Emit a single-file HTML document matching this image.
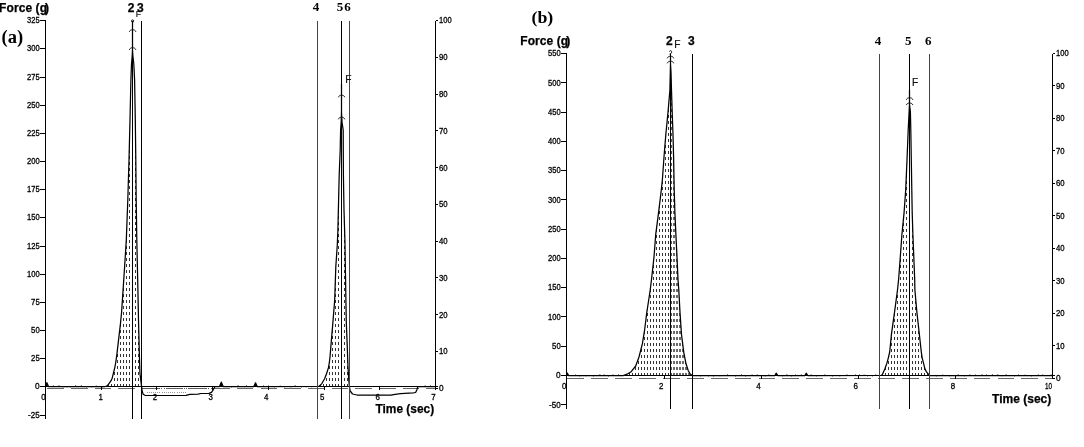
<!DOCTYPE html>
<html><head><meta charset="utf-8"><title>Texture profile</title>
<style>
html,body{margin:0;padding:0;background:#fff;}
body{width:1084px;height:447px;overflow:hidden;}
svg{display:block;}
text{font-family:"Liberation Sans",sans-serif;fill:#000;}
.b{font-weight:bold;font-size:12.3px;stroke:#000;stroke-width:0.25px;}
.n{font-weight:bold;font-size:12px;stroke:#000;stroke-width:0.25px;}
.s{font-family:"Liberation Serif",serif;font-weight:bold;}
.t{font-size:8.5px;stroke:#000;stroke-width:0.3px;}
.x{font-size:8.6px;stroke:#000;stroke-width:0.3px;}
.f{font-size:10.2px;fill:#111;stroke:#111;stroke-width:0.2px;}
.ln{stroke:#000;stroke-width:1;fill:none;shape-rendering:crispEdges;}
.cv{stroke:#000;stroke-width:1.25;fill:none;stroke-linejoin:round;}
.mk{stroke:#111;stroke-width:1;fill:none;}
</style></head><body>
<svg width="1084" height="447" viewBox="0 0 1084 447">
<rect width="1084" height="447" fill="#fff"/>

<path class="ln" d="M45.5,20.5V418.5"/>
<path class="ln" d="M39.5,20.5H45.5"/>
<text class="t" x="39.7" y="23.2" text-anchor="end" textLength="12.6" lengthAdjust="spacingAndGlyphs">325</text>
<path class="ln" d="M39.5,48.5H45.5"/>
<text class="t" x="39.7" y="51.2" text-anchor="end" textLength="12.6" lengthAdjust="spacingAndGlyphs">300</text>
<path class="ln" d="M39.5,77.5H45.5"/>
<text class="t" x="39.7" y="80.2" text-anchor="end" textLength="12.6" lengthAdjust="spacingAndGlyphs">275</text>
<path class="ln" d="M39.5,105.5H45.5"/>
<text class="t" x="39.7" y="108.2" text-anchor="end" textLength="12.6" lengthAdjust="spacingAndGlyphs">250</text>
<path class="ln" d="M39.5,133.5H45.5"/>
<text class="t" x="39.7" y="136.2" text-anchor="end" textLength="12.6" lengthAdjust="spacingAndGlyphs">225</text>
<path class="ln" d="M39.5,161.5H45.5"/>
<text class="t" x="39.7" y="164.2" text-anchor="end" textLength="12.6" lengthAdjust="spacingAndGlyphs">200</text>
<path class="ln" d="M39.5,189.5H45.5"/>
<text class="t" x="39.7" y="192.2" text-anchor="end" textLength="12.6" lengthAdjust="spacingAndGlyphs">175</text>
<path class="ln" d="M39.5,217.5H45.5"/>
<text class="t" x="39.7" y="220.2" text-anchor="end" textLength="12.6" lengthAdjust="spacingAndGlyphs">150</text>
<path class="ln" d="M39.5,246.5H45.5"/>
<text class="t" x="39.7" y="249.2" text-anchor="end" textLength="12.6" lengthAdjust="spacingAndGlyphs">125</text>
<path class="ln" d="M39.5,274.5H45.5"/>
<text class="t" x="39.7" y="277.2" text-anchor="end" textLength="12.6" lengthAdjust="spacingAndGlyphs">100</text>
<path class="ln" d="M39.5,302.5H45.5"/>
<text class="t" x="39.7" y="305.2" text-anchor="end" textLength="8.6" lengthAdjust="spacingAndGlyphs">75</text>
<path class="ln" d="M39.5,330.5H45.5"/>
<text class="t" x="39.7" y="333.2" text-anchor="end" textLength="8.6" lengthAdjust="spacingAndGlyphs">50</text>
<path class="ln" d="M39.5,358.5H45.5"/>
<text class="t" x="39.7" y="361.2" text-anchor="end" textLength="8.6" lengthAdjust="spacingAndGlyphs">25</text>
<path class="ln" d="M39.5,386.5H45.5"/>
<text class="t" x="39.7" y="389.2" text-anchor="end" textLength="4.6" lengthAdjust="spacingAndGlyphs">0</text>
<path class="ln" d="M39.5,415.5H45.5"/>
<text class="t" x="39.7" y="418.2" text-anchor="end" textLength="11.6" lengthAdjust="spacingAndGlyphs">-25</text>
<path class="ln" d="M435.5,20.5V389.0"/>
<path class="ln" d="M435.5,20.5H438.0"/>
<text class="t" x="439.0" y="23.4" textLength="12.6" lengthAdjust="spacingAndGlyphs">100</text>
<path class="ln" d="M435.5,57.5H438.0"/>
<text class="t" x="439.0" y="60.2" textLength="8.6" lengthAdjust="spacingAndGlyphs">90</text>
<path class="ln" d="M435.5,94.5H438.0"/>
<text class="t" x="439.0" y="97.0" textLength="8.6" lengthAdjust="spacingAndGlyphs">80</text>
<path class="ln" d="M435.5,130.5H438.0"/>
<text class="t" x="439.0" y="133.7" textLength="8.6" lengthAdjust="spacingAndGlyphs">70</text>
<path class="ln" d="M435.5,167.5H438.0"/>
<text class="t" x="439.0" y="170.5" textLength="8.6" lengthAdjust="spacingAndGlyphs">60</text>
<path class="ln" d="M435.5,204.5H438.0"/>
<text class="t" x="439.0" y="207.3" textLength="8.6" lengthAdjust="spacingAndGlyphs">50</text>
<path class="ln" d="M435.5,241.5H438.0"/>
<text class="t" x="439.0" y="244.1" textLength="8.6" lengthAdjust="spacingAndGlyphs">40</text>
<path class="ln" d="M435.5,277.5H438.0"/>
<text class="t" x="439.0" y="280.9" textLength="8.6" lengthAdjust="spacingAndGlyphs">30</text>
<path class="ln" d="M435.5,314.5H438.0"/>
<text class="t" x="439.0" y="317.6" textLength="8.6" lengthAdjust="spacingAndGlyphs">20</text>
<path class="ln" d="M435.5,351.5H438.0"/>
<text class="t" x="439.0" y="354.4" textLength="8.6" lengthAdjust="spacingAndGlyphs">10</text>
<path class="ln" d="M435.5,388.5H438.0"/>
<text class="t" x="439.0" y="391.2" textLength="4.6" lengthAdjust="spacingAndGlyphs">0</text>
<path d="M47.2,388.5H435.5" stroke="#666" stroke-width="1" stroke-dasharray="16.6 7.1" fill="none" shape-rendering="crispEdges"/>
<path class="ln" d="M45.5,386.5V389.5"/>
<text class="x" x="43.5" y="399.5" text-anchor="middle" textLength="4.4" lengthAdjust="spacingAndGlyphs">0</text>
<path class="ln" d="M101.5,386.5V389.5"/>
<text class="x" x="100.6" y="399.5" text-anchor="middle" textLength="4.4" lengthAdjust="spacingAndGlyphs">1</text>
<path class="ln" d="M156.5,386.5V389.5"/>
<text class="x" x="154.9" y="399.5" text-anchor="middle" textLength="4.4" lengthAdjust="spacingAndGlyphs">2</text>
<path class="ln" d="M212.5,386.5V389.5"/>
<text class="x" x="210.6" y="399.5" text-anchor="middle" textLength="4.4" lengthAdjust="spacingAndGlyphs">3</text>
<path class="ln" d="M268.5,386.5V389.5"/>
<text class="x" x="266.3" y="399.5" text-anchor="middle" textLength="4.4" lengthAdjust="spacingAndGlyphs">4</text>
<path class="ln" d="M324.5,386.5V389.5"/>
<text class="x" x="322.1" y="399.5" text-anchor="middle" textLength="4.4" lengthAdjust="spacingAndGlyphs">5</text>
<path class="ln" d="M379.5,386.5V389.5"/>
<text class="x" x="377.8" y="399.5" text-anchor="middle" textLength="4.4" lengthAdjust="spacingAndGlyphs">6</text>
<path class="ln" d="M435.5,386.5V389.5"/>
<text class="x" x="433.5" y="399.5" text-anchor="middle" textLength="4.4" lengthAdjust="spacingAndGlyphs">7</text>
<clipPath id="c1"><polygon points="105.2,386.5 106.8,386.0 108.4,384.4 110.4,381.7 112.0,378.8 113.4,373.2 114.8,367.6 115.8,362.0 116.6,356.7 117.9,345.6 119.2,334.4 120.5,323.2 121.6,312.0 122.4,300.0 124.4,270.0 126.3,240.0 127.8,200.0 129.0,160.0 130.0,120.0 130.9,80.0 131.5,64.0 132.2,56.0 132.5,50.0 132.5,22.0 132.5,22.0 132.5,50.0 132.9,56.0 133.8,64.0 134.6,80.0 135.3,120.0 135.8,160.0 136.2,200.0 136.8,240.0 137.7,280.0 138.5,320.0 139.4,355.8 140.0,373.7 141.0,382.0 141.6,386.5"/></clipPath>
<path clip-path="url(#c1)" d="M102.5,18.0V386M105.5,18.0V386M108.5,18.0V386M111.5,18.0V386M114.5,18.0V386M117.5,18.0V386M120.5,18.0V386M123.5,18.0V386M126.5,18.0V386M129.5,18.0V386M135.5,18.0V386M138.5,18.0V386" stroke="#333" stroke-width="1" stroke-dasharray="3 3.00" fill="none" shape-rendering="crispEdges"/>
<path d="M143.5,388.5H212" stroke="#555" stroke-width="1" stroke-dasharray="1 1.24" fill="none" shape-rendering="crispEdges"/>
<path d="M146.5,392H187" stroke="#999" stroke-width="1" stroke-dasharray="1 1.15" fill="none" shape-rendering="crispEdges"/>
<clipPath id="c2"><polygon points="318.7,386.4 320.2,385.3 322.0,383.3 324.6,378.8 326.7,373.2 328.5,367.6 329.4,362.0 330.1,356.0 331.0,344.7 332.9,322.4 334.7,300.0 335.8,267.0 337.3,244.7 337.9,230.0 338.6,200.0 339.2,175.0 340.2,150.0 340.6,130.0 341.2,122.0 341.5,112.0 341.5,84.0 341.5,84.0 341.5,112.0 342.0,122.0 343.2,130.0 343.4,175.0 344.0,210.0 344.9,240.0 345.4,270.0 345.9,300.0 346.3,322.4 347.2,344.7 348.0,367.0 348.8,380.0 349.4,386.5"/></clipPath>
<path clip-path="url(#c2)" d="M317.5,18.0V386M320.5,18.0V386M323.5,18.0V386M326.5,18.0V386M329.5,18.0V386M332.5,18.0V386M335.5,18.0V386M338.5,18.0V386M344.5,18.0V386M347.5,18.0V386" stroke="#333" stroke-width="1" stroke-dasharray="3 3.00" fill="none" shape-rendering="crispEdges"/>
<polyline class="cv" points="45.5,386.5 46.8,382.6 48.5,386.5 105.2,386.5 106.8,386.0 108.4,384.4 110.4,381.7 112.0,378.8 113.4,373.2 114.8,367.6 115.8,362.0 116.6,356.7 117.9,345.6 119.2,334.4 120.5,323.2 121.6,312.0 122.4,300.0 124.4,270.0 126.3,240.0 127.8,200.0 129.0,160.0 130.0,120.0 130.9,80.0 131.5,64.0 132.2,56.0 132.5,50.0 132.5,22.0 132.5,22.0 132.5,50.0 132.9,56.0 133.8,64.0 134.6,80.0 135.3,120.0 135.8,160.0 136.2,200.0 136.8,240.0 137.7,280.0 138.5,320.0 139.4,355.8 140.0,373.7 141.0,382.0 141.6,386.5 141.6,386.5 142.2,391.5 143.2,394.2 145.0,395.3 160.0,395.5 186.0,395.3 190.0,394.4 198.0,394.2 201.0,393.5 209.0,393.3 211.5,392.3 213.2,389.8 215.0,386.5 219.5,386.5 221.3,382.2 223.2,386.5 253.8,386.5 255.5,382.8 257.2,386.5 318.7,386.4 320.2,385.3 322.0,383.3 324.6,378.8 326.7,373.2 328.5,367.6 329.4,362.0 330.1,356.0 331.0,344.7 332.9,322.4 334.7,300.0 335.8,267.0 337.3,244.7 337.9,230.0 338.6,200.0 339.2,175.0 340.2,150.0 340.6,130.0 341.2,122.0 341.5,112.0 341.5,84.0 341.5,84.0 341.5,112.0 342.0,122.0 343.2,130.0 343.4,175.0 344.0,210.0 344.9,240.0 345.4,270.0 345.9,300.0 346.3,322.4 347.2,344.7 348.0,367.0 348.8,380.0 349.4,386.5 349.4,386.5 350.2,391.0 352.5,394.0 357.0,395.0 391.0,395.2 395.0,394.3 400.7,393.6 413.2,392.9 415.6,392.5 416.8,390.0 417.9,386.5 435.5,386.5"/>
<path d="M219.6,386.5L221.3,382L223,386.5ZM253.9,386.5L255.5,382.6L257.1,386.5ZM45.5,386.5V382.4L48.6,386.5Z" fill="#000"/>
<path d="M49.0,386.5L52.6,386.5l0.8,-0.6l0.8,0.6L58.2,386.5l0.8,-0.9l0.8,0.9L62.2,386.5l0.8,0.4l0.8,-0.4L66.2,386.5l0.8,0.4l0.8,-0.4L70.1,386.5l0.8,0.4l0.8,-0.4L74.8,386.5l0.8,-0.9l0.8,0.9L80.6,386.5l0.8,-0.9l0.8,0.9L85.4,386.5l0.8,0.4l0.8,-0.4L91.1,386.5l0.8,0.4l0.8,-0.4L95.3,386.5l0.8,-0.6l0.8,0.6L102.1,386.5l0.8,0.4l0.8,-0.4" stroke="#222" stroke-width="1" fill="none"/>
<path d="M224.0,386.5L230.7,386.5l0.8,0.4l0.8,-0.4L237.3,386.5l0.8,-0.9l0.8,0.9L245.7,386.5l0.8,-0.9l0.8,0.9" stroke="#222" stroke-width="1" fill="none"/>
<path d="M258.0,386.5L262.8,386.5l0.8,-0.6l0.8,0.6L267.8,386.5l0.8,-0.6l0.8,0.6L274.1,386.5l0.8,0.4l0.8,-0.4L279.3,386.5l0.8,-0.6l0.8,0.6L283.4,386.5l0.8,0.4l0.8,-0.4L290.2,386.5l0.8,0.5l0.8,-0.5L294.3,386.5l0.8,-0.9l0.8,0.9L300.7,386.5l0.8,0.4l0.8,-0.4L305.3,386.5l0.8,0.4l0.8,-0.4L311.1,386.5l0.8,0.5l0.8,-0.5" stroke="#222" stroke-width="1" fill="none"/>
<path d="M420.0,386.5L424.3,386.5l0.8,-0.8l0.8,0.8L429.7,386.5l0.8,-0.6l0.8,0.6" stroke="#222" stroke-width="1" fill="none"/>
<path d="M45.5,386.5H437.5" class="ln"/>
<path class="ln" d="M132.5,20.5V418.5"/>
<path class="ln" d="M141.5,20.5V418.5"/>
<path class="ln" d="M317.5,20.5V418.5" style="stroke:#444"/>
<path class="ln" d="M341.5,20.5V418.5"/>
<path class="ln" d="M349.5,20.5V418.5" style="stroke:#444"/>
<text class="n" x="-0.9" y="11.6" letter-spacing="0.08">Force (g<tspan dx="-2">)</tspan></text>
<text class="s" x="1.5" y="42.6" font-size="18.5" textLength="21.6" lengthAdjust="spacingAndGlyphs">(a)</text>
<text class="n" x="127.8" y="11.6">2</text><text class="n" x="137" y="11.6">3</text>
<text class="f" x="135.8" y="17.3" style="font-size:8.6px">F</text>
<text class="s" x="312.8" y="10.9" font-size="13">4</text><text class="s" x="336.8" y="10.9" font-size="13">5</text><text class="s" x="344.3" y="10.9" font-size="13">6</text>
<text class="f" x="345.3" y="83">F</text>
<text class="b" x="375.5" y="413.3" textLength="58.6" lengthAdjust="spacingAndGlyphs">Time (sec)</text>
<path class="mk" d="M129.29999999999998,31.8C130.2,29.0 135.0,29.0 135.9,31.8"/>
<path class="mk" d="M129.29999999999998,49.8C130.2,47.0 135.0,47.0 135.9,49.8"/>
<path class="mk" d="M338.3,97.3C339.20000000000005,94.5 344.0,94.5 344.90000000000003,97.3"/>
<path class="mk" d="M338.3,119.3C339.20000000000005,116.5 344.0,116.5 344.90000000000003,119.3"/>
<circle class="mk" cx="132.6" cy="21" r="1.1"/>
<path class="ln" d="M566.5,53.5V408.5"/>
<path class="ln" d="M560.5,53.5H566.5"/>
<text class="t" x="560.7" y="56.2" text-anchor="end" textLength="12.6" lengthAdjust="spacingAndGlyphs">550</text>
<path class="ln" d="M560.5,82.5H566.5"/>
<text class="t" x="560.7" y="85.5" text-anchor="end" textLength="12.6" lengthAdjust="spacingAndGlyphs">500</text>
<path class="ln" d="M560.5,112.5H566.5"/>
<text class="t" x="560.7" y="114.7" text-anchor="end" textLength="12.6" lengthAdjust="spacingAndGlyphs">450</text>
<path class="ln" d="M560.5,141.5H566.5"/>
<text class="t" x="560.7" y="144.0" text-anchor="end" textLength="12.6" lengthAdjust="spacingAndGlyphs">400</text>
<path class="ln" d="M560.5,170.5H566.5"/>
<text class="t" x="560.7" y="173.3" text-anchor="end" textLength="12.6" lengthAdjust="spacingAndGlyphs">350</text>
<path class="ln" d="M560.5,199.5H566.5"/>
<text class="t" x="560.7" y="202.6" text-anchor="end" textLength="12.6" lengthAdjust="spacingAndGlyphs">300</text>
<path class="ln" d="M560.5,229.5H566.5"/>
<text class="t" x="560.7" y="231.8" text-anchor="end" textLength="12.6" lengthAdjust="spacingAndGlyphs">250</text>
<path class="ln" d="M560.5,258.5H566.5"/>
<text class="t" x="560.7" y="261.1" text-anchor="end" textLength="12.6" lengthAdjust="spacingAndGlyphs">200</text>
<path class="ln" d="M560.5,287.5H566.5"/>
<text class="t" x="560.7" y="290.4" text-anchor="end" textLength="12.6" lengthAdjust="spacingAndGlyphs">150</text>
<path class="ln" d="M560.5,316.5H566.5"/>
<text class="t" x="560.7" y="319.7" text-anchor="end" textLength="12.6" lengthAdjust="spacingAndGlyphs">100</text>
<path class="ln" d="M560.5,346.5H566.5"/>
<text class="t" x="560.7" y="348.9" text-anchor="end" textLength="8.6" lengthAdjust="spacingAndGlyphs">50</text>
<path class="ln" d="M560.5,375.5H566.5"/>
<text class="t" x="560.7" y="378.2" text-anchor="end" textLength="4.6" lengthAdjust="spacingAndGlyphs">0</text>
<path class="ln" d="M560.5,404.5H566.5"/>
<text class="t" x="560.7" y="407.5" text-anchor="end" textLength="11.6" lengthAdjust="spacingAndGlyphs">-50</text>
<path class="ln" d="M1052.5,53.5V378.5"/>
<path class="ln" d="M1052.5,53.5H1055.0"/>
<text class="t" x="1056.0" y="56.4" textLength="12.6" lengthAdjust="spacingAndGlyphs">100</text>
<path class="ln" d="M1052.5,85.5H1055.0"/>
<text class="t" x="1056.0" y="88.9" textLength="8.6" lengthAdjust="spacingAndGlyphs">90</text>
<path class="ln" d="M1052.5,118.5H1055.0"/>
<text class="t" x="1056.0" y="121.3" textLength="8.6" lengthAdjust="spacingAndGlyphs">80</text>
<path class="ln" d="M1052.5,150.5H1055.0"/>
<text class="t" x="1056.0" y="153.8" textLength="8.6" lengthAdjust="spacingAndGlyphs">70</text>
<path class="ln" d="M1052.5,183.5H1055.0"/>
<text class="t" x="1056.0" y="186.2" textLength="8.6" lengthAdjust="spacingAndGlyphs">60</text>
<path class="ln" d="M1052.5,215.5H1055.0"/>
<text class="t" x="1056.0" y="218.7" textLength="8.6" lengthAdjust="spacingAndGlyphs">50</text>
<path class="ln" d="M1052.5,248.5H1055.0"/>
<text class="t" x="1056.0" y="251.2" textLength="8.6" lengthAdjust="spacingAndGlyphs">40</text>
<path class="ln" d="M1052.5,280.5H1055.0"/>
<text class="t" x="1056.0" y="283.6" textLength="8.6" lengthAdjust="spacingAndGlyphs">30</text>
<path class="ln" d="M1052.5,313.5H1055.0"/>
<text class="t" x="1056.0" y="316.1" textLength="8.6" lengthAdjust="spacingAndGlyphs">20</text>
<path class="ln" d="M1052.5,345.5H1055.0"/>
<text class="t" x="1056.0" y="348.5" textLength="8.6" lengthAdjust="spacingAndGlyphs">10</text>
<path class="ln" d="M1052.5,378.5H1055.0"/>
<text class="t" x="1056.0" y="381.0" textLength="4.6" lengthAdjust="spacingAndGlyphs">0</text>
<path d="M567.3,378.5H1052.5" stroke="#666" stroke-width="1" stroke-dasharray="16.8 7.1" fill="none" shape-rendering="crispEdges"/>
<path class="ln" d="M566.5,375.5V378.5"/>
<text class="x" x="564.1" y="388.5" text-anchor="middle" textLength="4.4" lengthAdjust="spacingAndGlyphs">0</text>
<path class="ln" d="M664.5,375.5V378.5"/>
<text class="x" x="661.3" y="388.5" text-anchor="middle" textLength="4.4" lengthAdjust="spacingAndGlyphs">2</text>
<path class="ln" d="M761.5,375.5V378.5"/>
<text class="x" x="758.5" y="388.5" text-anchor="middle" textLength="4.4" lengthAdjust="spacingAndGlyphs">4</text>
<path class="ln" d="M858.5,375.5V378.5"/>
<text class="x" x="855.7" y="388.5" text-anchor="middle" textLength="4.4" lengthAdjust="spacingAndGlyphs">6</text>
<path class="ln" d="M955.5,375.5V378.5"/>
<text class="x" x="952.9" y="388.5" text-anchor="middle" textLength="4.4" lengthAdjust="spacingAndGlyphs">8</text>
<path class="ln" d="M1052.5,375.5V378.5"/>
<text class="x" x="1048.6" y="388.5" text-anchor="middle" textLength="7" lengthAdjust="spacingAndGlyphs">10</text>
<clipPath id="c3"><polygon points="623.4,375.5 627.0,374.2 631.2,371.7 635.7,366.0 639.0,357.0 642.4,343.7 644.6,330.0 646.8,312.4 648.7,300.0 650.2,290.0 651.5,279.5 654.0,257.0 655.7,234.7 658.6,212.4 661.3,190.0 662.4,179.5 664.0,157.0 665.8,134.7 668.0,112.4 669.9,90.0 670.3,72.0 670.5,64.0 670.5,56.0 670.5,56.0 670.5,375.5"/></clipPath>
<path clip-path="url(#c3)" d="M668.5,55.0V375M665.5,55.0V375M662.5,55.0V375M659.5,55.0V375M656.5,55.0V375M653.5,55.0V375M650.5,55.0V375M647.5,55.0V375M644.5,55.0V375M641.5,55.0V375M638.5,55.0V375M635.5,55.0V375M632.5,55.0V375M629.5,55.0V375M626.5,55.0V375M623.5,55.0V375" stroke="#333" stroke-width="1" stroke-dasharray="3 3.00" fill="none" shape-rendering="crispEdges"/>
<clipPath id="c4"><polygon points="670.5,375.5 670.5,56.0 670.5,56.0 670.5,64.0 671.0,72.0 671.5,90.0 672.2,112.4 673.0,134.7 673.6,157.0 674.2,190.0 674.9,212.4 675.9,234.7 677.0,257.0 678.0,279.5 678.8,290.0 680.0,312.4 681.5,334.7 683.8,352.6 686.0,363.8 688.2,370.5 690.0,373.8 692.0,375.5"/></clipPath>
<path clip-path="url(#c4)" d="M674,55.0V375M677,55.0V375M680,55.0V375M683,55.0V375M686,55.0V375M689,55.0V375M692,55.0V375" stroke="#6a6a6a" stroke-width="2" stroke-dasharray="3 3.00" fill="none" shape-rendering="crispEdges"/>
<clipPath id="c5"><polygon points="670.5,375.5 670.5,56.0 670.5,56.0 670.5,64.0 671.0,72.0 671.5,90.0 672.2,112.4 673.0,134.7 673.6,157.0 674.2,190.0 674.9,212.4 675.9,234.7 677.0,257.0 678.0,279.5 678.8,290.0 680.0,312.4 681.5,334.7 683.8,352.6 686.0,363.8 688.2,370.5 690.0,373.8 692.0,375.5"/></clipPath>
<path clip-path="url(#c5)" d="M671.5,55.0V375" stroke="#555" stroke-width="1" stroke-dasharray="3 3.00" fill="none" shape-rendering="crispEdges"/>
<clipPath id="c6"><polygon points="881.6,375.4 882.4,374.4 884.9,368.8 886.9,363.2 888.4,357.6 889.7,352.0 891.4,334.7 894.5,312.4 897.5,290.0 898.6,279.5 900.3,257.0 901.9,234.7 904.1,212.4 905.7,190.0 907.0,160.0 908.2,130.0 909.1,112.0 909.5,104.0 909.5,90.0 909.5,90.0 909.5,104.0 910.4,112.0 910.8,130.0 911.3,160.0 911.8,190.0 912.2,212.4 912.9,234.7 913.8,257.0 914.7,279.5 914.9,290.0 916.9,312.4 919.4,334.7 921.3,352.0 922.1,357.6 923.5,363.2 924.9,368.8 926.3,371.6 928.6,374.4 929.8,375.5"/></clipPath>
<path clip-path="url(#c6)" d="M879.5,55.0V375M882.5,55.0V375M885.5,55.0V375M888.5,55.0V375M891.5,55.0V375M894.5,55.0V375M897.5,55.0V375M900.5,55.0V375M903.5,55.0V375M906.5,55.0V375M912.5,55.0V375M915.5,55.0V375M918.5,55.0V375M921.5,55.0V375M924.5,55.0V375M927.5,55.0V375M930.5,55.0V375" stroke="#333" stroke-width="1" stroke-dasharray="3 3.00" fill="none" shape-rendering="crispEdges"/>
<polyline class="cv" points="566.5,375.5 567.3,373.0 568.5,375.5 623.4,375.5 627.0,374.2 631.2,371.7 635.7,366.0 639.0,357.0 642.4,343.7 644.6,330.0 646.8,312.4 648.7,300.0 650.2,290.0 651.5,279.5 654.0,257.0 655.7,234.7 658.6,212.4 661.3,190.0 662.4,179.5 664.0,157.0 665.8,134.7 668.0,112.4 669.9,90.0 670.3,72.0 670.5,64.0 670.5,56.0 670.5,56.0 670.5,64.0 671.0,72.0 671.5,90.0 672.2,112.4 673.0,134.7 673.6,157.0 674.2,190.0 674.9,212.4 675.9,234.7 677.0,257.0 678.0,279.5 678.8,290.0 680.0,312.4 681.5,334.7 683.8,352.6 686.0,363.8 688.2,370.5 690.0,373.8 692.0,375.5 774.8,375.5 776.2,373.2 777.8,375.5 804.8,375.5 806.2,373.2 807.8,375.5 881.6,375.4 882.4,374.4 884.9,368.8 886.9,363.2 888.4,357.6 889.7,352.0 891.4,334.7 894.5,312.4 897.5,290.0 898.6,279.5 900.3,257.0 901.9,234.7 904.1,212.4 905.7,190.0 907.0,160.0 908.2,130.0 909.1,112.0 909.5,104.0 909.5,90.0 909.5,90.0 909.5,104.0 910.4,112.0 910.8,130.0 911.3,160.0 911.8,190.0 912.2,212.4 912.9,234.7 913.8,257.0 914.7,279.5 914.9,290.0 916.9,312.4 919.4,334.7 921.3,352.0 922.1,357.6 923.5,363.2 924.9,368.8 926.3,371.6 928.6,374.4 929.8,375.5 1052.5,375.5"/>
<path d="M774.6,375.5L776.2,372.8L777.9,375.5ZM804.6,375.5L806.2,372.8L807.9,375.5ZM566.5,375.5V372.4L569,375.5Z" fill="#000"/>
<path d="M569.0,375.5L575.0,375.5l0.8,-0.6l0.8,0.6L579.0,375.5l0.8,0.5l0.8,-0.5L585.2,375.5l0.8,0.5l0.8,-0.5L592.5,375.5l0.8,0.5l0.8,-0.5L599.1,375.5l0.8,-0.9l0.8,0.9L603.3,375.5l0.8,-0.8l0.8,0.8L607.7,375.5l0.8,0.5l0.8,-0.5L612.1,375.5l0.8,-0.8l0.8,0.8L617.8,375.5l0.8,-0.9l0.8,0.9" stroke="#222" stroke-width="1" fill="none"/>
<path d="M694.0,375.5L699.8,375.5l0.8,0.4l0.8,-0.4L707.4,375.5l0.8,0.5l0.8,-0.5L712.7,375.5l0.8,0.5l0.8,-0.5L719.2,375.5l0.8,0.4l0.8,-0.4L726.8,375.5l0.8,-0.9l0.8,0.9L734.6,375.5l0.8,0.5l0.8,-0.5L740.6,375.5l0.8,-0.9l0.8,0.9L744.5,375.5l0.8,0.5l0.8,-0.5L751.3,375.5l0.8,-0.8l0.8,0.8L756.4,375.5l0.8,-0.8l0.8,0.8L764.4,375.5l0.8,0.5l0.8,-0.5L768.1,375.5l0.8,-0.8l0.8,0.8" stroke="#222" stroke-width="1" fill="none"/>
<path d="M778.0,375.5L781.8,375.5l0.8,0.4l0.8,-0.4L786.0,375.5l0.8,-0.9l0.8,0.9L790.7,375.5l0.8,0.5l0.8,-0.5L794.9,375.5l0.8,-0.6l0.8,0.6L800.5,375.5l0.8,-0.8l0.8,0.8" stroke="#222" stroke-width="1" fill="none"/>
<path d="M808.0,375.5L810.4,375.5l0.8,-0.8l0.8,0.8L816.0,375.5l0.8,0.5l0.8,-0.5L824.0,375.5l0.8,-0.8l0.8,0.8L831.9,375.5l0.8,0.5l0.8,-0.5L839.1,375.5l0.8,0.5l0.8,-0.5L846.1,375.5l0.8,-0.8l0.8,0.8L854.5,375.5l0.8,-0.6l0.8,0.6L858.5,375.5l0.8,-0.6l0.8,0.6L863.3,375.5l0.8,-0.6l0.8,0.6L866.9,375.5l0.8,0.4l0.8,-0.4L871.4,375.5l0.8,0.5l0.8,-0.5L875.0,375.5l0.8,-0.8l0.8,0.8" stroke="#222" stroke-width="1" fill="none"/>
<path d="M931.0,375.5L935.7,375.5l0.8,0.4l0.8,-0.4L942.1,375.5l0.8,-0.6l0.8,0.6L949.2,375.5l0.8,0.4l0.8,-0.4L957.5,375.5l0.8,-0.9l0.8,0.9L963.4,375.5l0.8,0.4l0.8,-0.4L969.0,375.5l0.8,-0.8l0.8,0.8L974.5,375.5l0.8,-0.8l0.8,0.8L981.3,375.5l0.8,-0.9l0.8,0.9L985.8,375.5l0.8,-0.6l0.8,0.6L991.7,375.5l0.8,-0.9l0.8,0.9L997.0,375.5l0.8,-0.9l0.8,0.9L1001.1,375.5l0.8,0.4l0.8,-0.4L1005.4,375.5l0.8,-0.9l0.8,0.9L1013.8,375.5l0.8,0.4l0.8,-0.4L1017.5,375.5l0.8,-0.6l0.8,0.6L1024.2,375.5l0.8,-0.6l0.8,0.6L1030.9,375.5l0.8,0.5l0.8,-0.5L1037.5,375.5l0.8,-0.8l0.8,0.8L1041.8,375.5l0.8,-0.8l0.8,0.8L1050.3,375.5l0.8,-0.8l0.8,0.8" stroke="#222" stroke-width="1" fill="none"/>
<path d="M566.5,375.5H1054.5" class="ln"/>
<path class="ln" d="M670.5,53.5V408.5"/>
<path class="ln" d="M692.5,53.5V408.5"/>
<path class="ln" d="M879.5,53.5V408.5" style="stroke:#444"/>
<path class="ln" d="M909.5,53.5V408.5"/>
<path class="ln" d="M929.5,53.5V408.5" style="stroke:#444"/>
<text class="s" x="531.5" y="23" font-size="17.5" textLength="21.8" lengthAdjust="spacingAndGlyphs">(b)</text>
<text class="n" x="520.3" y="44.8" letter-spacing="0.08">Force (g<tspan dx="-2">)</tspan></text>
<text class="n" x="666" y="44.7">2</text><text class="n" x="688" y="44.7">3</text>
<text class="f" x="674.2" y="47.7">F</text>
<text class="s" x="874.8" y="45" font-size="13">4</text><text class="s" x="905" y="45" font-size="13">5</text><text class="s" x="925" y="45" font-size="13">6</text>
<text class="f" x="912.1" y="86.2">F</text>
<text class="b" x="992" y="402.8" textLength="59.3" lengthAdjust="spacingAndGlyphs">Time (sec)</text>
<path class="mk" d="M667.2,58.3C668.1,55.5 672.9,55.5 673.8,58.3"/>
<path class="mk" d="M667.2,63.3C668.1,60.5 672.9,60.5 673.8,63.3"/>
<path class="mk" d="M906.3000000000001,99.8C907.2,97.0 912.0,97.0 912.9,99.8"/>
<path class="mk" d="M906.3000000000001,105.1C907.2,102.3 912.0,102.3 912.9,105.1"/>
<path class="mk" d="M669.3,51.5Q670.5,49.8 671.6,51.3T669.6,54.2"/>
</svg></body></html>
